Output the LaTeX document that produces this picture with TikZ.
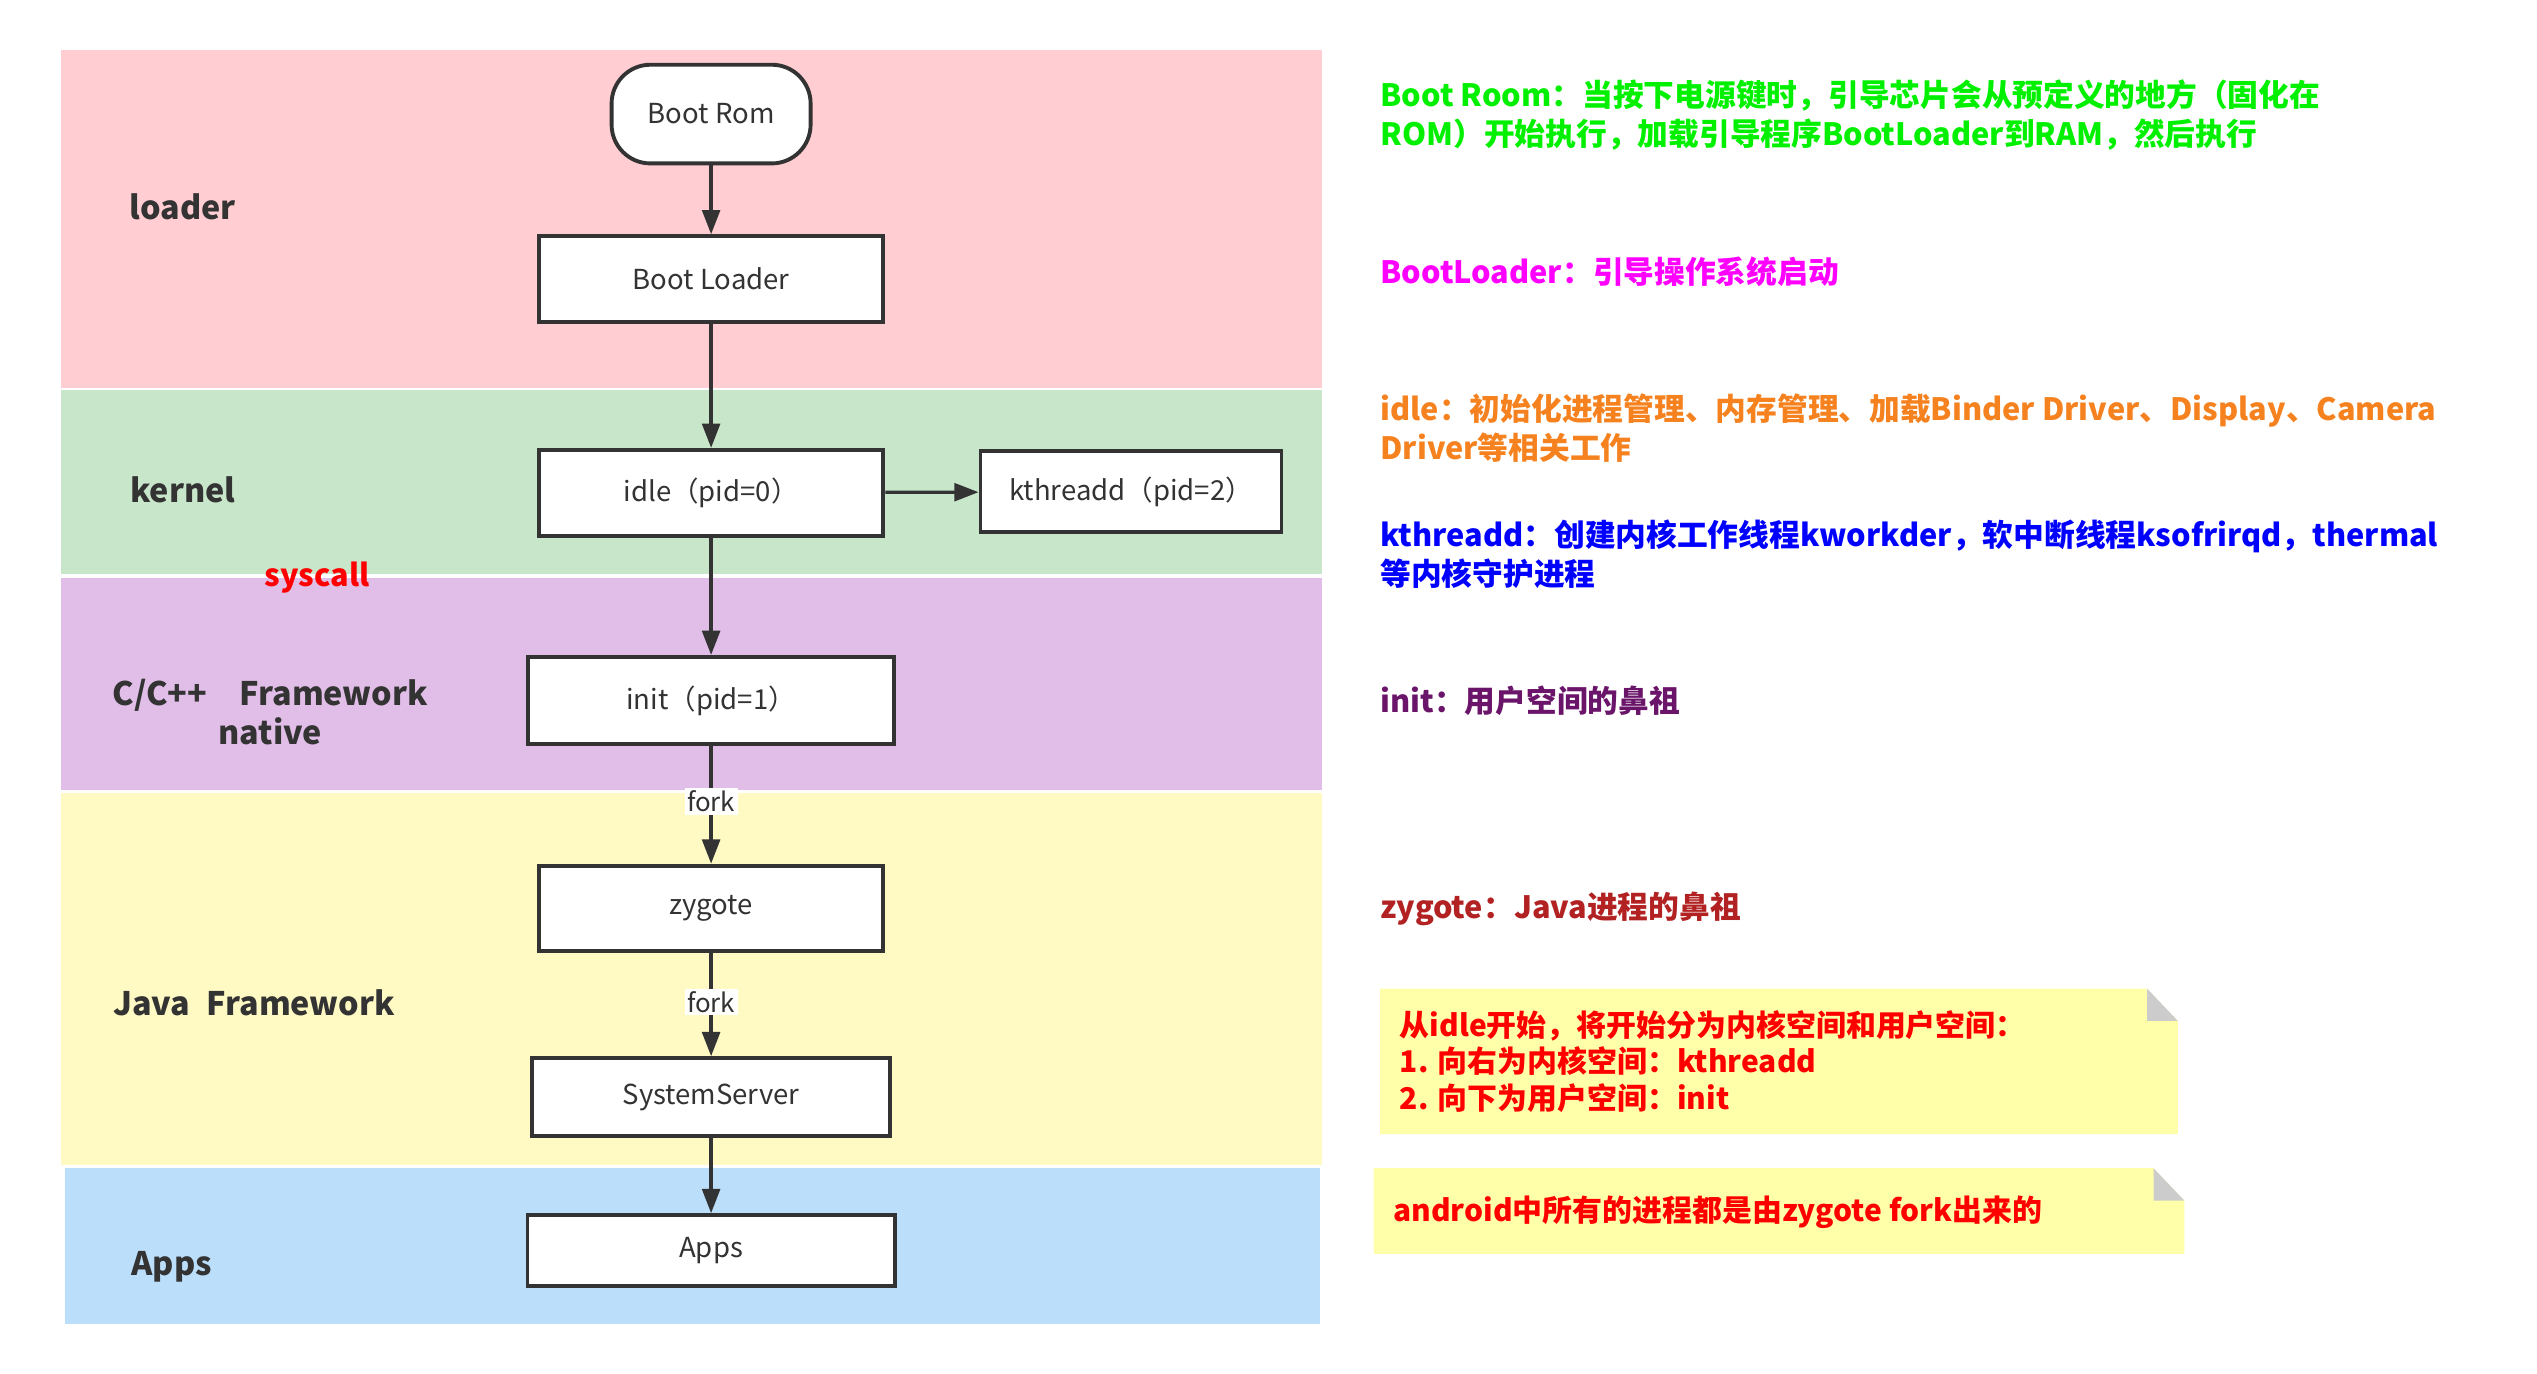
\documentclass[tikz,border=0pt]{standalone}
\usepackage{fontspec}
\setmainfont{Noto Sans CJK SC}
\usepackage{tikz}
\usetikzlibrary{arrows.meta}

\definecolor{loaderpink}{HTML}{FFCDD2}
\definecolor{kernelgreen}{HTML}{C8E6C9}
\definecolor{nativepurple}{HTML}{E1BEE7}
\definecolor{javayellow}{HTML}{FFF9C4}
\definecolor{appsblue}{HTML}{BBDEFB}
\definecolor{linegray}{HTML}{333333}
\definecolor{romgreen}{HTML}{00F000}
\definecolor{loadermagenta}{HTML}{FF00FF}
\definecolor{idleorange}{HTML}{F5821F}
\definecolor{kthreadblue}{HTML}{0000FF}
\definecolor{initpurple}{HTML}{6A156A}
\definecolor{zygotered}{HTML}{B22222}
\definecolor{notered}{HTML}{FF0000}
\definecolor{notefill}{HTML}{FFFFAA}
\definecolor{foldgray}{HTML}{CCCCCC}

\begin{document}
\begin{tikzpicture}[x=1pt, y=-1pt,
            proc/.style={draw=linegray, line width=2.4pt, fill=white, text=linegray, font=\fontsize{17}{20}\selectfont, inner sep=0pt},
            layer/.style={text=linegray, font=\fontsize{20}{24}\selectfont\bfseries, align=center},
            flow/.style={draw=linegray, line width=2pt, -{Triangle[length=15pt,width=11pt]}},
            forklbl/.style={fill=white, text=linegray, font=\fontsize{16}{18}\selectfont, inner sep=1.5pt},
            info/.style={anchor=west, align=left, font=\fontsize{19}{24}\selectfont\bfseries, inner sep=0pt},
            note/.style={fill=notefill},
            fold/.style={fill=foldgray}]
            \useasboundingbox (0,0) rectangle (1568,849);

            % layers
            \fill[loaderpink]   (38,31)  rectangle (817,240);
            \fill[kernelgreen]  (38,241) rectangle (817,355);
            \fill[nativepurple] (38,357) rectangle (817,488);
            \fill[javayellow]   (38,490) rectangle (817,720);
            \fill[appsblue]     (40,722) rectangle (816,818);

            \node[layer] at (113,128) (loader) {loader};
            \node[layer] at (113,303) (kernel) {kernel};
            \node[layer, text=notered, font=\fontsize{19}{22}\selectfont\bfseries] at (196,357) (syscall) {syscall};
            \node[layer] at (167,440) (native) {C/C++\quad Framework\\native};
            \node[layer] at (157,620) (java) {Java\enspace Framework};
            \node[layer] at (106,783) (appslayer) {Apps};

            % processes
            \node[proc, rounded corners=24pt, minimum width=123pt, minimum height=61pt] at (439.5,70.5) (bootrom) {Boot Rom};
            \node[proc, minimum width=213pt, minimum height=53pt] at (439.5,172.5) (bootloader) {Boot Loader};
            \node[proc, minimum width=213pt, minimum height=53pt] at (439.5,304.5) (idle) {idle（pid=0）};
            \node[proc, minimum width=186pt, minimum height=50pt] at (699,304) (kthreadd) {kthreadd（pid=2）};
            \node[proc, minimum width=226pt, minimum height=54pt] at (439.5,433) (init) {init（pid=1）};
            \node[proc, minimum width=213pt, minimum height=53pt] at (439.5,561.5) (zygote) {zygote};
            \node[proc, minimum width=221pt, minimum height=48pt] at (439.5,678) (sysserver) {SystemServer};
            \node[proc, minimum width=227pt, minimum height=44pt] at (439.5,773) (apps) {Apps};

            \draw[flow] (bootrom) -- (bootloader);
            \draw[flow] (bootloader) -- (idle);
            \draw[flow] (idle) -- (kthreadd);
            \draw[flow] (idle) -- (init);
            \draw[flow] (init) -- node[forklbl, pos=0.47] (fork1) {fork} (zygote);
            \draw[flow] (zygote) -- node[forklbl, pos=0.47] (fork2) {fork} (sysserver);
            \draw[flow] (sysserver) -- (apps);

            % notes on the right
            \node[info, text=romgreen] at (853,71) (romnote) {Boot Room：当按下电源键时，引导芯片会从预定义的地方（固化在\\ROM）开始执行，加载引导程序BootLoader到RAM，然后执行};
            \node[info, text=loadermagenta] at (853,168) (loadernote) {BootLoader：引导操作系统启动};
            \node[info, text=idleorange] at (853,264.5) (idlenote) {idle：初始化进程管理、内存管理、加载Binder Driver、Display、Camera\\Driver等相关工作};
            \node[info, text=kthreadblue] at (853,342.5) (kthreadnote) {kthreadd：创建内核工作线程kworkder，软中断线程ksofrirqd，thermal\\等内核守护进程};
            \node[info, text=initpurple] at (853,433) (initnote) {init：用户空间的鼻祖};
            \node[info, text=zygotered] at (853,562) (zygotenote) {zygote：Java进程的鼻祖};

            \fill[note] (853,611) -- (1327,611) -- (1346,631) -- (1346,701) -- (853,701) -- cycle;
            \fill[fold] (1327,611) -- (1346,631) -- (1327,631) -- cycle;
            \node[info, text=notered, font=\fontsize{18.5}{22.5}\selectfont\bfseries] at (865,656) (spacenote) {从idle开始，将开始分为内核空间和用户空间：\\1. 向右为内核空间：kthreadd\\2. 向下为用户空间：init};

            \fill[note] (849,722) -- (1331,722) -- (1350,742) -- (1350,775) -- (849,775) -- cycle;
            \fill[fold] (1331,722) -- (1350,742) -- (1331,742) -- cycle;
            \node[info, text=notered, font=\fontsize{18.5}{22.5}\selectfont\bfseries] at (861,749) (forknote) {android中所有的进程都是由zygote fork出来的};
        \end{tikzpicture}
\end{document}
